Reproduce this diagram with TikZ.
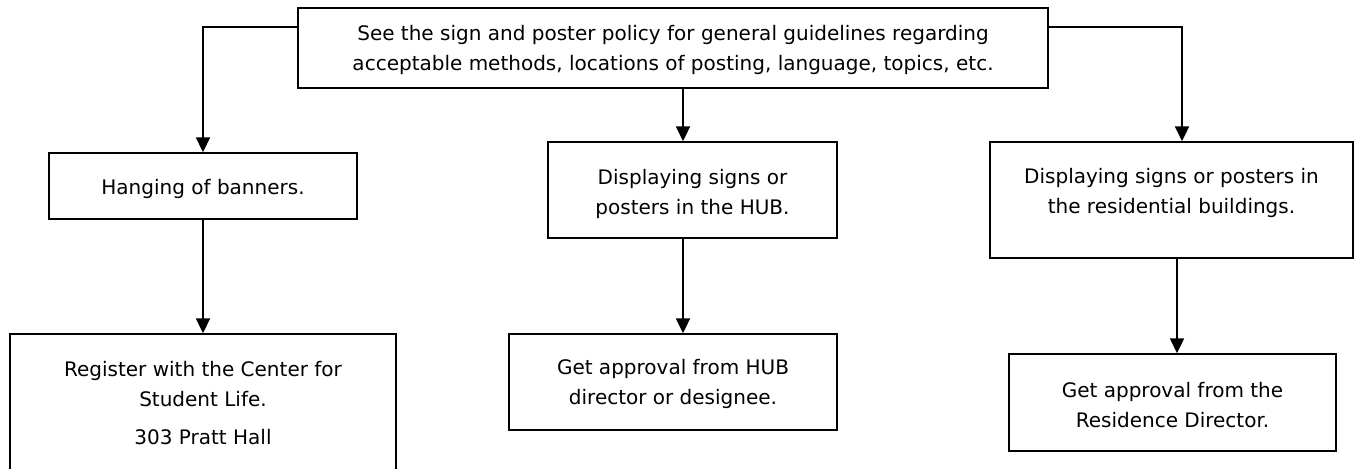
\documentclass[tikz,border=0pt]{standalone}
\usepackage{fontspec}
\setmainfont{DejaVu Sans}
\usetikzlibrary{arrows.meta}
\begin{document}
\begin{tikzpicture}[x=0.75pt,y=-0.75pt,
  box/.style={draw=black,line width=1.3pt,rectangle,inner sep=0pt},
  txt/.style={align=center,inner sep=0pt,font=\fontsize{15}{22.5}\selectfont},
  arr/.style={line width=1.3pt,-{Triangle[width=10.5pt,length=11pt]}}]
\useasboundingbox (0,0) rectangle (1357,468);
% boxes
\node[box,minimum width=750*0.75pt,minimum height=80*0.75pt] (top) at (673,48) {};
\node[box,minimum width=308*0.75pt,minimum height=66*0.75pt] (hang) at (203,186) {};
\node[box,minimum width=386*0.75pt,minimum height=141*0.75pt] (bl) at (203,404.5) {};
\node[box,minimum width=289*0.75pt,minimum height=96*0.75pt] (hub) at (692.5,190) {};
\node[box,minimum width=328*0.75pt,minimum height=96*0.75pt] (hubb) at (673,382) {};
\node[box,minimum width=363*0.75pt,minimum height=116*0.75pt] (resi) at (1171.5,200) {};
\node[box,minimum width=327*0.75pt,minimum height=97*0.75pt] (resd) at (1172.5,402.5) {};
% texts
\node[txt] (toptext) at (673,50) {See the sign and poster policy for general guidelines regarding\\acceptable methods, locations of posting, language, topics, etc.};
\node[txt] (hangtext) at (203,189) {Hanging of banners.};
\node[txt] (bltext) at (203,384) {Register with the Center for\\Student Life.};
\node[txt] (bladdr) at (203,437) {303 Pratt Hall};
\node[txt] (hubtext) at (692.5,193.5) {Displaying signs or\\posters in the HUB.};
\node[txt] (hubbtext) at (673,384) {Get approval from HUB\\director or designee.};
\node[txt] (resitext) at (1171.5,192.5) {Displaying signs or posters in\\the residential buildings.};
\node[txt] (resdtext) at (1172.5,405) {Get approval from the\\Residence Director.};
% junctions
\coordinate (lj) at (203,27);
\coordinate (rj) at (1182,27);
\coordinate (mid) at (683,0);
\coordinate (rmid) at (1177,0);
% connectors
\draw[arr] (top.west |- lj) -- (lj) -- (lj |- hang.north);
\draw[arr] (top.east |- rj) -- (rj) -- (rj |- resi.north);
\draw[arr] (mid |- top.south) -- (mid |- hub.north);
\draw[arr] (lj |- hang.south) -- (lj |- bl.north);
\draw[arr] (mid |- hub.south) -- (mid |- hubb.north);
\draw[arr] (rmid |- resi.south) -- (rmid |- resd.north);
\end{tikzpicture}
\end{document}
